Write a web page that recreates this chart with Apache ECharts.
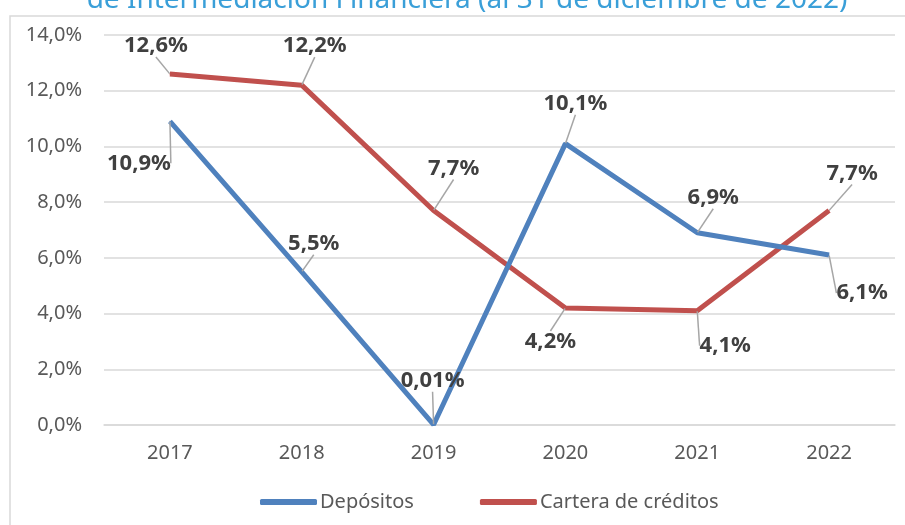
<!DOCTYPE html>
<html>
<head>
    <meta charset="utf-8">
    <title>Depósitos y cartera de créditos</title>
    <script src="https://cdn.jsdelivr.net/npm/echarts@6/dist/echarts.min.js"></script>
    <style>
        html, body { margin: 0; padding: 0; background: #fff; }
        #chart1 { width: 905px; height: 525px; }
    </style>
</head>
<body>
<div id="chart1"></div>
<script>
    // datos
    var years = ['2017', '2018', '2019', '2020', '2021', '2022'];
    var depositos = [10.9, 5.5, 0.01, 10.1, 6.9, 6.1];
    var cartera = [12.6, 12.2, 7.7, 4.2, 4.1, 7.7];

    // desplazamiento de etiquetas (como en Excel, con línea guía)
    var offDep = [[-31, 42], [12, -28], [-1, -44], [10, -40], [16, -35], [33, 38]];
    var offCar = [[-14, -28], [13, -39], [20, -42], [-15, 34], [28, 35], [23, -37]];

    var FONT = '"Noto Sans", "Open Sans", sans-serif';

    function pct(v) {
        return String(v).replace('.', ',') + '%';
    }

    var myChart1 = echarts.init(document.getElementById('chart1'));

    var labelStyle = {
        show: true,
        position: 'inside',
        formatter: function (p) { return pct(p.value); },
        color: '#404040',
        fontFamily: FONT,
        fontWeight: 'bold',
        fontSize: 22
    };
    var guide = {
        show: true,
        lineStyle: { color: '#a6a6a6', width: 1.5 }
    };

    myChart1.setOption({
        animation: false,
        graphic: [
            {
                type: 'rect',
                shape: { x: 10, y: 16, width: 900, height: 520 },
                style: { fill: 'none', stroke: '#d9d9d9', lineWidth: 1.5 },
                silent: true
            },
            {
                type: 'text',
                x: 467, y: 14,
                style: {
                    text: 'de Intermediación Financiera (al 31 de diciembre de 2022)',
                    fill: '#3a9fd8',
                    font: '28px ' + FONT,
                    align: 'center',
                    verticalAlign: 'bottom'
                }
            }
        ],
        grid: { left: 104, right: 10, top: 35, bottom: 100 },
        legend: {
            bottom: 8,
            left: 255,
            itemWidth: 57,
            itemHeight: 6,
            itemGap: 66,
            textStyle: { color: '#595959', fontSize: 20, fontFamily: FONT, padding: [0, 0, 0, -2] },
            data: [
                { name: 'Depósitos', icon: 'roundRect' },
                { name: 'Cartera de créditos', icon: 'roundRect' }
            ]
        },
        xAxis: {
            type: 'category',
            data: years,
            boundaryGap: true,
            axisLine: { show: true, lineStyle: { color: '#d9d9d9', width: 1.5 } },
            axisTick: { show: false },
            axisLabel: { color: '#595959', fontSize: 20, fontFamily: FONT, margin: 18 }
        },
        yAxis: {
            type: 'value',
            min: 0,
            max: 14,
            interval: 2,
            axisLine: { show: false },
            axisTick: { show: false },
            splitLine: { lineStyle: { color: '#d9d9d9', width: 1.5 } },
            axisLabel: {
                color: '#595959', fontSize: 20, fontFamily: FONT, margin: 22,
                formatter: function (v) { return v.toFixed(1).replace('.', ',') + '%'; }
            }
        },
        series: [
            {
                name: 'Depósitos',
                type: 'line',
                data: depositos,
                symbol: 'circle',
                symbolSize: 1,
                lineStyle: { color: '#4f81bd', width: 5 },
                itemStyle: { color: '#4f81bd' },
                label: labelStyle,
                labelLine: guide,
                labelLayout: function (p) {
                    return { dx: offDep[p.dataIndex][0], dy: offDep[p.dataIndex][1] };
                },
                z: 3
            },
            {
                name: 'Cartera de créditos',
                type: 'line',
                data: cartera,
                symbol: 'circle',
                symbolSize: 1,
                lineStyle: { color: '#c0504d', width: 5 },
                itemStyle: { color: '#c0504d' },
                label: labelStyle,
                labelLine: guide,
                labelLayout: function (p) {
                    return { dx: offCar[p.dataIndex][0], dy: offCar[p.dataIndex][1] };
                },
                z: 2
            }
        ]
    });
</script>
</body>
</html>
